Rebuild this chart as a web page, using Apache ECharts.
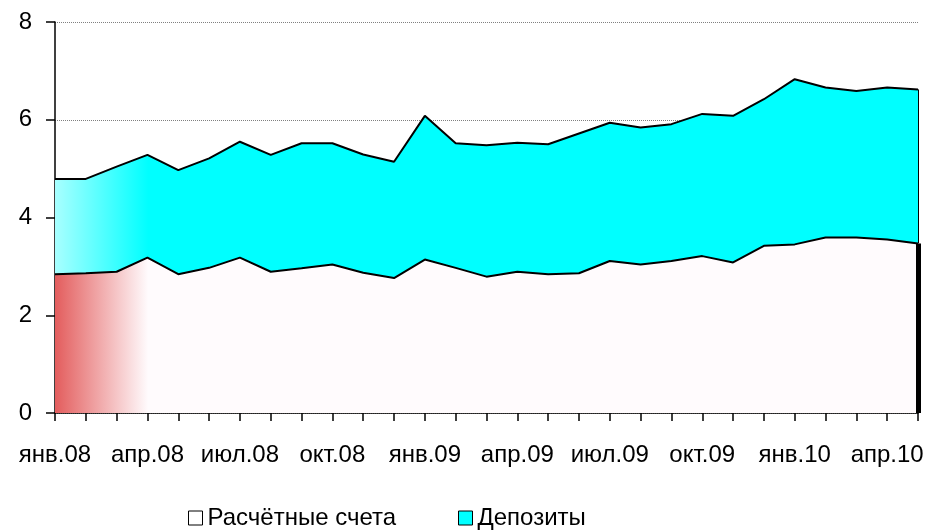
<!DOCTYPE html>
<html>
<head>
<meta charset="utf-8">
<script src="https://cdn.jsdelivr.net/npm/echarts@6/dist/echarts.min.js"></script>
<style>
  html, body { margin: 0; padding: 0; background: #fff; }
  #chart { width: 931px; height: 532px; }
</style>
</head>
<body>
<div id="chart"></div>
<script>
// months jan.08 .. may.10
var categories = ['янв.08','фев.08','мар.08','апр.08','май.08','июн.08','июл.08','авг.08','сен.08',
  'окт.08','ноя.08','дек.08','янв.09','фев.09','мар.09','апр.09','май.09','июн.09','июл.09',
  'авг.09','сен.09','окт.09','ноя.09','дек.09','янв.10','фев.10','мар.10','апр.10','май.10'];

var currentAccounts = [2.84,2.86,2.89,3.18,2.84,2.97,3.18,2.89,2.96,3.04,2.87,2.76,3.14,2.97,2.79,
  2.89,2.84,2.86,3.11,3.04,3.11,3.21,3.08,3.42,3.45,3.59,3.59,3.55,3.47];

var deposits = [1.95,1.93,2.15,2.10,2.13,2.24,2.37,2.39,2.56,2.48,2.42,2.38,2.94,2.55,2.69,
  2.64,2.66,2.86,2.83,2.80,2.80,2.91,3.00,3.00,3.38,3.07,3.00,3.11,3.15];

var seriesNames = ['Расчётные счета', 'Депозиты'];

var lastIdx = categories.length - 1;
var lastTotal = currentAccounts[lastIdx] + deposits[lastIdx];
var font = 'Liberation Sans, Arial, sans-serif';

var chart = echarts.init(document.getElementById('chart'));

chart.setOption({
  animation: false,
  textStyle: { fontFamily: font },
  grid: { left: 55, right: 13, top: 22, bottom: 119 },
  legend: {
    top: 501,
    left: 183,
    icon: 'rect',
    itemWidth: 14,
    itemHeight: 14,
    itemGap: 62,
    textStyle: { fontSize: 24, color: '#000', fontFamily: font },
    data: [
      { name: seriesNames[0], itemStyle: { color: '#ffffff', borderColor: '#000', borderWidth: 1 } },
      { name: seriesNames[1], itemStyle: { color: '#00ffff', borderColor: '#000', borderWidth: 1 } }
    ]
  },
  xAxis: {
    type: 'category',
    boundaryGap: false,
    data: categories,
    axisLine: { lineStyle: { color: '#000', width: 1.5 } },
    axisTick: { show: true, interval: 0, length: 8, lineStyle: { color: '#000', width: 1.5 } },
    axisLabel: { interval: 2, fontSize: 24, color: '#000', margin: 30 },
    splitLine: { show: false }
  },
  yAxis: {
    type: 'value',
    min: 0,
    max: 8,
    interval: 2,
    axisLine: { show: true, lineStyle: { color: '#000', width: 1.5 } },
    axisTick: { show: true, length: 9, lineStyle: { color: '#000', width: 1.5 } },
    axisLabel: { fontSize: 24, color: '#000', margin: 23 },
    splitLine: { show: true, lineStyle: { color: '#808080', type: 'dotted', width: 1 } }
  },
  series: [
    {
      name: seriesNames[0],
      type: 'line',
      stack: 'total',
      showSymbol: false,
      symbol: 'none',
      lineStyle: { color: '#000', width: 2 },
      itemStyle: { color: '#ffffff' },
      areaStyle: {
        opacity: 1,
        color: new echarts.graphic.LinearGradient(0, 0, 1, 0, [
          { offset: 0, color: '#e35d5d' },
          { offset: 0.108, color: '#fffbfd' },
          { offset: 1, color: '#fffbfd' }
        ])
      },
      markLine: {
        silent: true,
        symbol: 'none',
        label: { show: false },
        lineStyle: { color: '#000', width: 5, type: 'solid' },
        data: [[
          { coord: [categories[lastIdx], 0] },
          { coord: [categories[lastIdx], currentAccounts[lastIdx]] }
        ]]
      },
      data: currentAccounts
    },
    {
      name: seriesNames[1],
      type: 'line',
      stack: 'total',
      showSymbol: false,
      symbol: 'none',
      lineStyle: { color: '#000', width: 2 },
      itemStyle: { color: '#00ffff' },
      areaStyle: {
        opacity: 1,
        color: new echarts.graphic.LinearGradient(0, 0, 1, 0, [
          { offset: 0, color: '#a8ffff' },
          { offset: 0.108, color: '#00ffff' },
          { offset: 1, color: '#00ffff' }
        ])
      },
      markLine: {
        silent: true,
        symbol: 'none',
        label: { show: false },
        lineStyle: { color: '#000', width: 1, type: 'solid' },
        data: [[
          { coord: [categories[lastIdx], currentAccounts[lastIdx]] },
          { coord: [categories[lastIdx], lastTotal] }
        ]]
      },
      data: deposits
    }
  ]
});
</script>
</body>
</html>
